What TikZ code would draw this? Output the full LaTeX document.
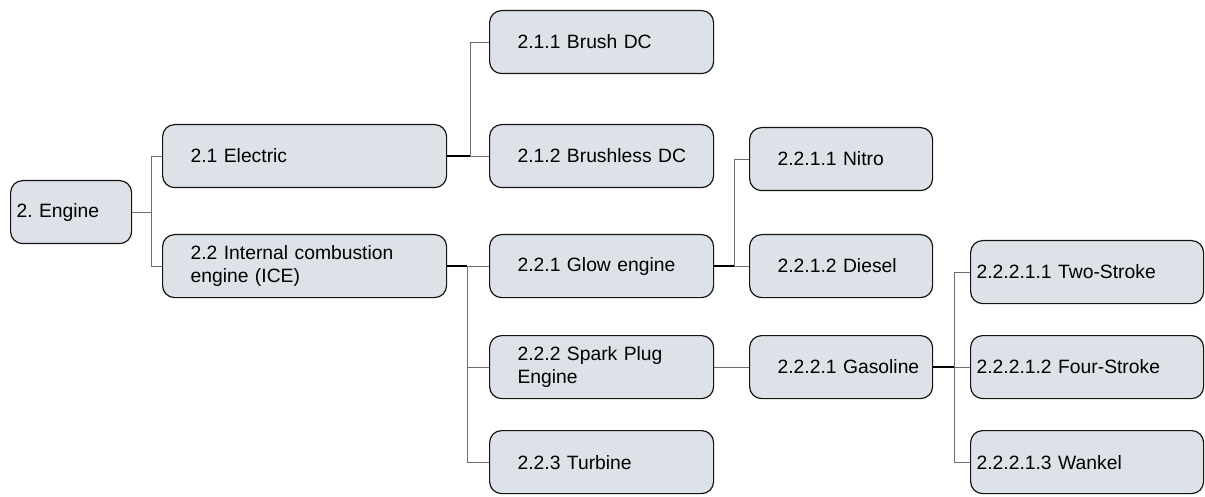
\documentclass[tikz,border=0pt]{standalone}
\usepackage{fontspec}
\setmainfont{Liberation Sans}
\usepackage{xcolor}
\usetikzlibrary{positioning}
\definecolor{relleno}{RGB}{221,226,232}
\definecolor{borde}{RGB}{20,20,20}
\definecolor{ramal}{RGB}{110,110,110}
\frenchspacing

\begin{document}
\begin{tikzpicture}[x=1pt, y=-1pt,
  caja/.style={draw=borde, fill=relleno, rounded corners=12pt, line width=1.2pt,
               anchor=north west, minimum height=63pt, inner xsep=0pt, inner ysep=0pt,
               text width=#1, align=left, font=\fontsize{19.3}{23}\selectfont,
               execute at begin node={\leftskip=28pt}},
  sangria/.style={execute at begin node={\leftskip=#1}},
  tronco/.style={line width=1.6pt, color=black},
  rama/.style={line width=0.9pt, color=ramal}]
  \useasboundingbox (0,0) rectangle (1205,497);
  % nivel 1 y 2
  \node[caja=121pt, sangria=6pt] (eng) at (10,180) {2. Engine};
  \node[caja=284pt] (ele) at (162,124) {2.1 Electric};
  \node[caja=284pt] (ice) at (162,234) {2.2 Internal combustion\\engine (ICE)};
  % nivel 3
  \node[caja=224pt] (bru) at (489,10) {2.1.1 Brush DC};
  \node[caja=224pt] (bls) at (489,124) {2.1.2 Brushless DC};
  \node[caja=224pt] (glo) at (489,234) {2.2.1 Glow engine};
  \node[caja=224pt] (spk) at (489,335) {2.2.2 Spark Plug\\Engine};
  \node[caja=224pt] (tur) at (489,430) {2.2.3 Turbine};
  % nivel 4
  \node[caja=183pt] (nit) at (749,127) {2.2.1.1 Nitro};
  \node[caja=183pt] (die) at (749,234) {2.2.1.2 Diesel};
  \node[caja=183pt] (gas) at (749,335) {2.2.2.1 Gasoline};
  % nivel 5
  \node[caja=233pt, sangria=6pt] (two) at (970,240) {2.2.2.1.1 Two-Stroke};
  \node[caja=233pt, sangria=6pt] (fou) at (970,335) {2.2.2.1.2 Four-Stroke};
  \node[caja=233pt, sangria=6pt] (wan) at (970,430) {2.2.2.1.3 Wankel};
  % conectores
  \draw[rama] (eng.east) -- ++(19,0) coordinate (r0);
  \foreach \h in {ele, ice}
    \draw[rama] (\h.west) -| (r0);
  \draw[tronco] (ele.east) -- ++(23,0) coordinate (r1);
  \foreach \h in {bru, bls}
    \draw[rama] (\h.west) -| (r1);
  \draw[tronco] (ice.east) -- ++(20,0) coordinate (r2);
  \foreach \h in {glo, spk, tur}
    \draw[rama] (\h.west) -| (r2);
  \draw[tronco] (glo.east) -- ++(20,0) coordinate (r3);
  \foreach \h in {nit, die}
    \draw[rama] (\h.west) -| (r3);
  \draw[rama] (spk) -- (gas);
  \draw[tronco] (gas.east) -- ++(21,0) coordinate (r4);
  \foreach \h in {two, fou, wan}
    \draw[rama] (\h.west) -| (r4);
\end{tikzpicture}
\end{document}
